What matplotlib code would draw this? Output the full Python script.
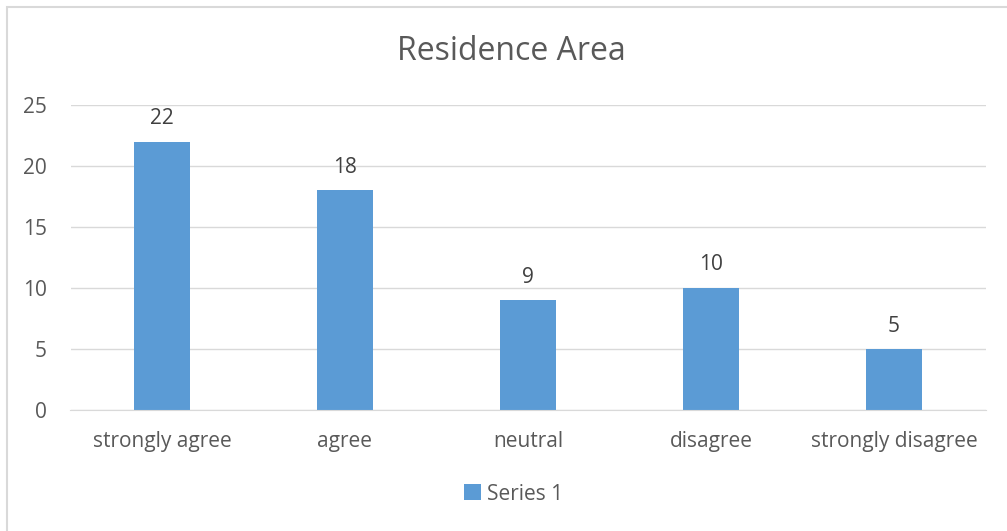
import matplotlib
matplotlib.use("Agg")
import matplotlib.pyplot as plt
from matplotlib.patches import Rectangle

categories = ["strongly agree", "agree", "neutral", "disagree", "strongly disagree"]
values = [22, 18, 9, 10, 5]
yticks = [0, 5, 10, 15, 20, 25]

BAR = "#5B9BD5"
TXT = "#595959"

W, H = 1007, 531
fig = plt.figure(figsize=(W / 100, H / 100), dpi=100)
plt.rcParams["font.family"] = ["Open Sans", "DejaVu Sans"]

# chart frame (runs off the right/bottom edge like the reference)
fig.patches.append(Rectangle((7 / W, -0.1), 1.2, 1 - 7 / H + 0.1, transform=fig.transFigure,
                             fill=False, edgecolor="#d9d9d9", linewidth=1.5))

ax = fig.add_axes([70.5 / W, 121 / H, 915 / W, 305 / H])
x = range(len(categories))
bars = ax.bar(x, values, width=0.31, color=BAR, zorder=2, label="Series 1")
ax.set_xlim(-0.5, len(categories) - 0.5)
ax.set_ylim(0, 25)
ax.set_yticks(yticks)
ax.set_xticks(list(x))
ax.set_xticklabels(categories)
ax.grid(axis="y", color="#d9d9d9", linewidth=1, zorder=0)
for s in ["top", "right", "left"]:
    ax.spines[s].set_visible(False)
ax.spines["bottom"].set_color("#d9d9d9")
ax.tick_params(axis="both", length=0, labelsize=15, colors=TXT)
ax.tick_params(axis="y", pad=17)
ax.tick_params(axis="x", pad=15)

for b, v in zip(bars, values):
    ax.annotate(str(v), (b.get_x() + b.get_width() / 2, v), xytext=(0, 9),
                textcoords="offset points", ha="center", va="bottom",
                fontsize=15, color="#404040")

fig.text(511 / W, 1 - 52 / H, "Residence Area", ha="center", va="center",
         fontsize=23, color=TXT)

fig.legend(handles=[bars], labels=["Series 1"], loc="center",
           bbox_to_anchor=(514 / W, 1 - 494 / H), frameon=False, fontsize=15,
           labelcolor=TXT, handlelength=0.8, handleheight=0.8, handletextpad=0.3)

fig.savefig("out.png", dpi=100)
